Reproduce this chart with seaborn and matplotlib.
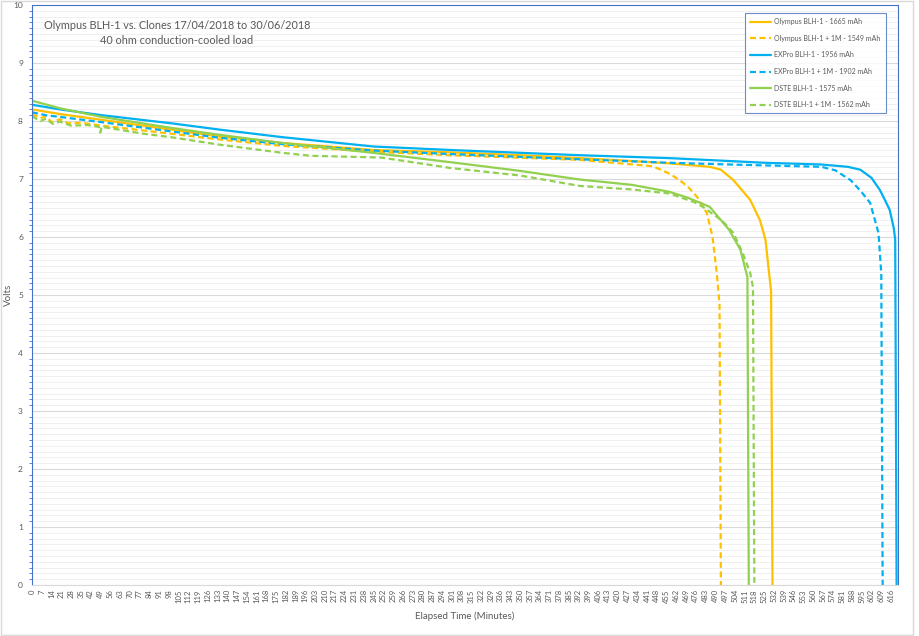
import numpy as np
import pandas as pd
import matplotlib.pyplot as plt
import seaborn as sns
from matplotlib.lines import Line2D
from matplotlib.patches import Rectangle
from matplotlib.ticker import MultipleLocator

# valeurs (minutes, volts)
olympus_t = [0, 20, 50, 100, 135, 180, 245, 300, 350, 393, 430, 457, 486, 494,
             503, 515, 522, 526, 528, 530, 531]
olympus_v = [8.20, 8.12, 8.02, 7.85, 7.73, 7.62, 7.50, 7.46, 7.41, 7.36, 7.31, 7.27, 7.21, 7.16,
             6.98, 6.64, 6.29, 5.95, 5.50, 5.07, 0.0]

olympus_1m_t = [0, 6, 10, 14, 20, 26, 35, 50, 100, 135, 180, 245, 300, 393, 445,
                452, 458, 465, 471, 477, 484, 488, 491, 493, 494]
olympus_1m_v = [8.12, 8.05, 8.08, 7.98, 8.03, 7.96, 7.97, 7.92, 7.78, 7.68, 7.57, 7.47, 7.41, 7.33, 7.22,
                7.15, 7.08, 6.97, 6.85, 6.69, 6.41, 6.00, 5.38, 4.85, 0.0]

expro_t = [0, 20, 50, 100, 135, 180, 245, 300, 393, 457, 500, 525, 566, 585,
           594, 602, 608, 612, 615, 618, 619, 620]
expro_v = [8.28, 8.20, 8.10, 7.96, 7.85, 7.72, 7.56, 7.50, 7.41, 7.36, 7.31, 7.28, 7.25, 7.21,
           7.16, 7.02, 6.81, 6.62, 6.47, 6.15, 5.95, 0.0]

expro_1m_t = [0, 10, 20, 50, 100, 135, 180, 245, 300, 393, 457, 500, 566, 576,
              587, 594, 601, 607, 609, 610]
expro_1m_v = [8.15, 8.10, 8.07, 7.98, 7.82, 7.71, 7.60, 7.49, 7.43, 7.34, 7.28, 7.25, 7.21, 7.15,
              6.98, 6.80, 6.59, 6.07, 5.38, 0.0]

dste_t = [0, 20, 50, 100, 135, 180, 245, 300, 350, 393, 430, 457, 470, 486,
          500, 508, 513, 514]
dste_v = [8.35, 8.22, 8.07, 7.88, 7.76, 7.62, 7.45, 7.29, 7.14, 6.99, 6.90, 6.78, 6.68, 6.52,
          6.12, 5.78, 5.31, 0.0]

dste_1m_t = [0, 6, 10, 15, 20, 28, 40, 48, 49, 50, 80, 100, 135, 180, 200, 250, 270,
             300, 350, 393, 430, 457, 475, 481, 495, 503, 510, 515, 517, 518]
dste_1m_v = [8.08, 8.00, 8.04, 7.95, 7.99, 7.92, 7.93, 7.90, 7.80, 7.90, 7.78, 7.72, 7.59, 7.45, 7.40, 7.37, 7.30,
             7.19, 7.06, 6.88, 6.82, 6.75, 6.60, 6.52, 6.28, 6.07, 5.70, 5.38, 5.14, 0.0]

series_names = ["Olympus BLH-1 - 1665 mAh", "Olympus BLH-1 + 1M - 1549 mAh",
                "EXPro BLH-1 - 1956 mAh", "EXPro BLH-1 + 1M - 1902 mAh",
                "DSTE BLH-1 - 1575 mAh", "DSTE BLH-1 + 1M - 1562 mAh"]
series_data = [(olympus_t, olympus_v), (olympus_1m_t, olympus_1m_v),
               (expro_t, expro_v), (expro_1m_t, expro_1m_v),
               (dste_t, dste_v), (dste_1m_t, dste_1m_v)]

colors = ["#FFC000", "#FFC000", "#00B0F0", "#00B0F0", "#92D050", "#92D050"]
dash = (2.7, 1.6)
dash_styles = ["", dash, "", dash, "", dash]

frames = []
for name, (t, v) in zip(series_names, series_data):
    frames.append(pd.DataFrame({"Minutes": t, "Volts": v, "Series": name}))
df = pd.concat(frames, ignore_index=True)

sns.set_theme(style="white")
plt.rcParams["font.family"] = ["Lato", "DejaVu Sans"]
grey = "#595959"
blue_axis = "#4472C4"

fig = plt.figure(figsize=(9.2, 6.36), dpi=100)
ax = fig.add_axes([32 / 920, 51 / 636, 866 / 920, 580 / 636])

# grille
ax.yaxis.set_major_locator(MultipleLocator(1))
ax.yaxis.set_minor_locator(MultipleLocator(0.1))
ax.grid(which="major", axis="y", color="#d9d9d9", lw=0.8)
ax.grid(which="minor", axis="y", color="#eeeeee", lw=0.6)
ax.grid(which="both", axis="x", visible=False)
ax.set_axisbelow(True)

sns.lineplot(data=df, x="Minutes", y="Volts", hue="Series", style="Series",
             hue_order=series_names, style_order=series_names,
             palette=dict(zip(series_names, colors)),
             dashes=dict(zip(series_names, dash_styles)),
             estimator=None, sort=False, lw=1.6, legend=False, ax=ax)

ax.set_xlim(0, 621)
ax.set_ylim(0, 10)
ax.set_xticks(np.arange(0, 617, 7))
ax.set_xticklabels([str(x) for x in np.arange(0, 617, 7)], rotation=90)
ax.tick_params(axis="x", length=0, pad=3, labelsize=5.5, labelcolor=grey)
ax.tick_params(axis="y", which="major", length=4, width=0.8, color=blue_axis,
               direction="out", labelsize=6, labelcolor=grey, pad=2.5)
ax.tick_params(axis="y", which="minor", length=2, width=0.6, color=blue_axis,
               direction="out", left=True)

for side in ["left", "top", "right"]:
    ax.spines[side].set_color(blue_axis)
    ax.spines[side].set_linewidth(0.8)
ax.spines["bottom"].set_color("#d9d9d9")
ax.spines["bottom"].set_linewidth(0.8)

ax.set_xlabel("Elapsed Time (Minutes)", fontsize=7, color=grey, labelpad=6)
ax.set_ylabel("Volts", fontsize=7, color=grey)
ax.yaxis.set_label_coords(-0.022, 0.5)

fig.text(177 / 920, 1 - 33 / 636,
         "Olympus BLH-1 vs. Clones 17/04/2018 to 30/06/2018\n40 ohm conduction-cooled load",
         ha="center", va="center", fontsize=7.8, color=grey, linespacing=1.35)

handles = [Line2D([0], [0], color=c, lw=1.6,
                  linestyle="-" if d == "" else (0, d))
           for c, d in zip(colors, dash_styles)]
leg = ax.legend(handles, series_names, loc="upper right",
                bbox_to_anchor=(0.986, 0.986), fontsize=5, frameon=True,
                fancybox=False, edgecolor=blue_axis, handlelength=3.0,
                handletextpad=0.45, labelspacing=1.38, borderpad=0.75,
                borderaxespad=0)
leg.get_frame().set_linewidth(0.8)
for txt in leg.get_texts():
    txt.set_color(grey)

# bordure de la zone du graphique
fig.patches.append(Rectangle((1 / 920, 1 / 636), 912 / 920, 634 / 636,
                             transform=fig.transFigure, fill=False,
                             edgecolor="#d9d9d9", lw=1))

plt.savefig("out.png", dpi=100)
